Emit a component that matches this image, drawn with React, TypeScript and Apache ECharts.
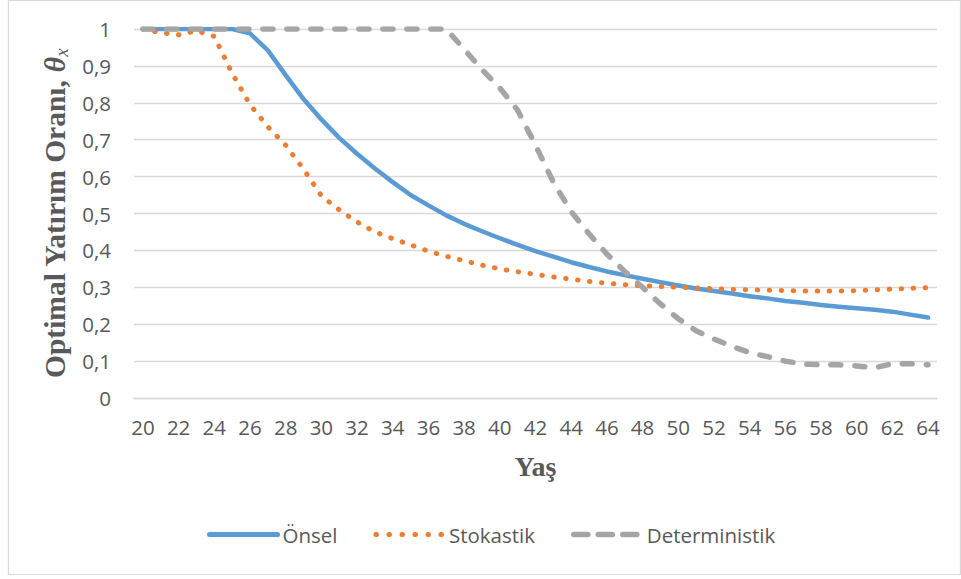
import React, { useEffect, useRef } from "react";
import * as echarts from "echarts";

// Age categories on the horizontal axis
const ages = [
  "20", "21", "22", "23", "24", "25", "26", "27", "28", "29",
  "30", "31", "32", "33", "34", "35", "36", "37", "38", "39",
  "40", "41", "42", "43", "44", "45", "46", "47", "48", "49",
  "50", "51", "52", "53", "54", "55", "56", "57", "58", "59",
  "60", "61", "62", "63", "64",
];

// Optimal investment ratio per age, one array per strategy
const onsel = [
  1, 1, 1, 1, 1, 1, 0.988, 0.942, 0.875, 0.81,
  0.755, 0.705, 0.662, 0.622, 0.585, 0.55, 0.522, 0.495, 0.472, 0.452,
  0.433, 0.415, 0.398, 0.383, 0.368, 0.355, 0.343, 0.333, 0.323, 0.314,
  0.305, 0.297, 0.29, 0.283, 0.276, 0.27, 0.263, 0.258, 0.252, 0.247,
  0.243, 0.239, 0.234, 0.226, 0.218,
];

const stokastik = [
  1, 0.99, 0.984, 0.995, 0.98, 0.88, 0.795, 0.735, 0.685, 0.62,
  0.548, 0.51, 0.477, 0.45, 0.432, 0.415, 0.398, 0.384, 0.372, 0.36,
  0.35, 0.342, 0.335, 0.328, 0.322, 0.316, 0.311, 0.307, 0.304, 0.302,
  0.3, 0.298, 0.296, 0.294, 0.293, 0.292, 0.291, 0.29, 0.29, 0.29,
  0.291, 0.293, 0.295, 0.297, 0.299,
];

const deterministik = [
  1, 1, 1, 1, 1, 1, 1, 1, 1, 1,
  1, 1, 1, 1, 1, 1, 1, 1, 0.945, 0.89,
  0.84, 0.78, 0.685, 0.585, 0.505, 0.445, 0.39, 0.343, 0.3, 0.255,
  0.215, 0.182, 0.16, 0.14, 0.123, 0.112, 0.1, 0.092, 0.09, 0.09,
  0.087, 0.082, 0.093, 0.093, 0.09,
];

const seriesNames = ["Önsel", "Stokastik", "Deterministik"];

const TEXT = "#595959";
const GRID = "#d9d9d9";
const SANS = "'Open Sans', sans-serif";
const SERIF = "'Liberation Serif', 'Times New Roman', serif";

function formatTick(v: number): string {
  if (v === 0) return "0";
  if (v === 1) return "1";
  return v.toFixed(1).replace(".", ",");
}

export default function App() {
  const ref = useRef<HTMLDivElement>(null);

  useEffect(() => {
    document.body.style.margin = "0";
    if (!ref.current) return;
    const chart = echarts.init(ref.current, null, { renderer: "svg" });

    const option = {
      animation: false,
      backgroundColor: "#ffffff",
      graphic: [
        {
          type: "rect",
          shape: { x: 8.5, y: 0.5, width: 952, height: 574 },
          style: { fill: "none", stroke: GRID, lineWidth: 1.2 },
          silent: true,
        },
      ],
      grid: { left: 134, right: 24, top: 29, bottom: 181 },
      legend: {
        left: 202,
        top: 519,
        itemWidth: 68,
        itemHeight: 14,
        itemGap: 36,
        textStyle: { fontFamily: SANS, fontSize: 20.5, color: TEXT },
        itemStyle: { opacity: 0 },
        data: [
          {
            name: seriesNames[0],
            lineStyle: { width: 5, cap: "round" },
          },
          {
            name: seriesNames[1],
            lineStyle: { type: [0.5, 12.5], width: 5, cap: "round" },
          },
          {
            name: seriesNames[2],
            lineStyle: { type: [14, 10.5], width: 5.5, cap: "round" },
          },
        ],
      },
      xAxis: {
        type: "category",
        data: ages,
        name: "Yaş",
        nameLocation: "middle",
        nameGap: 54,
        nameTextStyle: {
          fontFamily: SERIF,
          fontWeight: "bold",
          fontSize: 28,
          color: TEXT,
        },
        axisTick: { show: false },
        axisLine: { lineStyle: { color: GRID, width: 1.3 } },
        axisLabel: {
          interval: 1,
          margin: 18,
          fontFamily: SANS,
          fontSize: 20.5,
          color: TEXT,
        },
      },
      yAxis: {
        type: "value",
        min: 0,
        max: 1,
        interval: 0.1,
        name: "{b|Optimal Yatırım Oranı, }{t|θ}{s|x}",
        nameLocation: "middle",
        nameRotate: 90,
        nameGap: 61,
        nameTextStyle: {
          color: TEXT,
          rich: {
            b: {
              fontFamily: SERIF,
              fontWeight: "bold",
              fontSize: 29.5,
              color: TEXT,
            },
            t: {
              fontFamily: SERIF,
              fontWeight: "bold",
              fontStyle: "italic",
              fontSize: 29.5,
              color: TEXT,
            },
            s: {
              fontFamily: SERIF,
              fontStyle: "italic",
              fontSize: 19,
              color: TEXT,
              padding: [14, 0, 0, 0],
            },
          },
        },
        axisLine: { show: false },
        axisTick: { show: false },
        splitLine: { lineStyle: { color: GRID, width: 1.3 } },
        axisLabel: {
          margin: 23,
          fontFamily: SANS,
          fontSize: 20.5,
          color: TEXT,
          formatter: formatTick,
        },
      },
      series: [
        {
          name: seriesNames[0],
          type: "line",
          data: onsel,
          symbol: "none",
          color: "#5b9bd5",
          lineStyle: { color: "#5b9bd5", width: 4.5, cap: "round", join: "round" },
        },
        {
          name: seriesNames[1],
          type: "line",
          data: stokastik,
          symbol: "none",
          color: "#ed7d31",
          lineStyle: {
            color: "#ed7d31",
            width: 5,
            type: [0.5, 11.5],
            cap: "round",
            join: "round",
          },
        },
        {
          name: seriesNames[2],
          type: "line",
          data: deterministik,
          symbol: "none",
          color: "#a5a5a5",
          lineStyle: {
            color: "#a5a5a5",
            width: 5.5,
            type: [10, 14],
            cap: "round",
            join: "round",
          },
        },
      ],
    };

    chart.setOption(option as any);
    return () => chart.dispose();
  }, []);

  return <div ref={ref} style={{ width: 961, height: 579 }} />;
}
